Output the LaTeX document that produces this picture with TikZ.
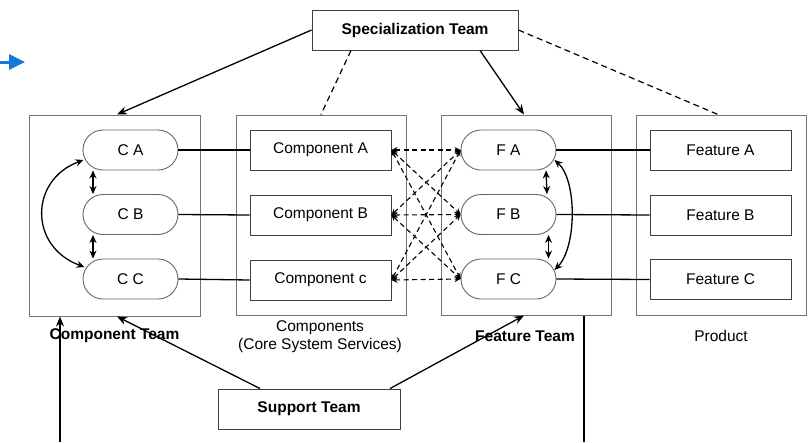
\documentclass[tikz,border=0pt]{standalone}
\usepackage{fontspec}
\setmainfont{Liberation Sans}
\usetikzlibrary{arrows.meta,shapes.misc}

\begin{document}
\begin{tikzpicture}[x=1pt,y=-1pt,
  every node/.style={font=\fontsize{15.5}{18.5}\selectfont},
  panel/.style={draw=black!55, line width=1pt, minimum width=170pt, minimum height=200pt, inner sep=0},
  pill/.style={draw=black!60, rounded rectangle, minimum width=95pt, minimum height=40pt, inner sep=0, line width=0.9pt},
  item/.style={draw=black!75, rectangle, minimum width=141pt, minimum height=40pt, inner sep=0, line width=0.9pt},
  team/.style={draw=black!75, minimum height=40pt, inner sep=0, font=\fontsize{15.5}{18.5}\selectfont\bfseries, line width=0.9pt},
  caption/.style={align=center, inner sep=0},
  link/.style={line width=1.3pt},
  push/.style={link, -{Stealth[length=10pt,width=8pt]}},
  swap/.style={link, {Stealth[length=8pt,width=7pt]}-{Stealth[length=8pt,width=7pt]}},
  loose/.style={line width=1.2pt, dash pattern=on 6pt off 4pt},
  cross/.style={line width=1.1pt, dash pattern=on 5pt off 3.5pt, {Stealth[length=6pt,width=6pt]}-{Stealth[length=6pt,width=6pt]}}
]
\useasboundingbox (0,0) rectangle (808,442);

% team boxes
\node[team, minimum width=206pt] (spec) at (415,30) {Specialization Team};
\node[team, minimum width=182pt] (support) at (309,409) {Support Team};

% four panels
\node[panel, minimum width=171pt, minimum height=201pt] (compteam) at (114.5,215.5) {};
\node[panel] (comps) at (321,215) {};
\node[panel] (featteam) at (526,215) {};
\node[panel] (product) at (721,215) {};

% component team members
\node[pill] (ca) at (130.5,150) {C A};
\node[pill] (cb) at (130.5,214.5) {C B};
\node[pill] (cc) at (130.5,279) {C C};

% components
\node[item] (compa) at (320.5,150) {Component A};
\node[item] (compb) at (320.5,215) {Component B};
\node[item] (compc) at (320.5,280) {Component c};

% feature team members
\node[pill] (fa) at (508.5,150) {F A};
\node[pill] (fb) at (508.5,214.5) {F B};
\node[pill] (fc) at (508.5,279) {F C};

% features
\node[item] (feata) at (720.5,150) {Feature A};
\node[item] (featb) at (720.5,215) {Feature B};
\node[item] (featc) at (720.5,279.5) {Feature C};

% captions
\node[caption, font=\fontsize{15.5}{18.5}\selectfont\bfseries] (lct) at (114.5,336) {Component Team};
\node[caption, font=\fontsize{15.5}{18.5}\selectfont\bfseries] (lft) at (525,336) {Feature Team};
\node[caption] (lcs) at (320,336.5) {Components\\(Core System Services)};
\node[caption] (lpr) at (721,336) {Product};

% pointer
\coordinate (bl1) at (0,62);
\coordinate (bl2) at (25,62);
\draw[color={rgb,255:red,20;green,122;blue,214}, line width=3pt, -{Triangle[length=16pt,width=15pt]}] (bl1) -- (bl2);

% specialization team links
\draw[push] (spec.west) -- ([xshift=2.5pt]compteam.north);
\draw[push] ([xshift=65pt]spec.south) -- ([xshift=-2pt]featteam.north);
\draw[loose] ([xshift=-64pt]spec.south) -- (comps.north);
\draw[loose] (spec.east) -- ([xshift=-3pt]product.north);

% support team links
\draw[push] ([xshift=-49pt]support.north) -- ([xshift=2.5pt]compteam.south);
\draw[push] ([xshift=81pt]support.north) -- ([xshift=-2pt]featteam.south);

% lines leaving the bottom
\coordinate (cbot) at (60,442);
\coordinate (fbot) at (584,442);
\draw[push] (cbot) -- (cbot |- compteam.south);
\draw[link] (fbot |- featteam.south) -- (fbot);

% member to item links
\draw[link] (ca.east) -- (compa.west);
\draw[link] (cb.east) -- (compb.west);
\draw[link] (cc.east) -- (compc.west);
\draw[link] (fa.east) -- (feata.west);
\draw[link] (fb.east) -- (featb.west);
\draw[link] (fc.east) -- (featc.west);

% components to feature team, every pair
\foreach \c in {compa,compb,compc}
  \foreach \f in {fa,fb,fc}
    \draw[cross] (\c.east) -- (\f.west);

% component team coordination
\draw[swap] ([xshift=-37.5pt]ca.south) -- ([xshift=-37.5pt]cb.north);
\draw[swap] ([xshift=-37.5pt]cb.south) -- ([xshift=-37.5pt]cc.north);
\draw[swap] ([shift={(-47,10)}]ca.center) .. controls (29,180) and (29,247) .. ([shift={(-46,-12)}]cc.center);

% feature team coordination
\draw[swap] ([xshift=37.5pt]fa.south) -- ([xshift=38.5pt]fb.north);
\draw[swap] ([xshift=40pt]fb.south) -- ([xshift=40pt]fc.north);
\draw[swap] ([shift={(46,10)}]fa.center) .. controls (577,180) and (577,247) .. ([shift={(46,-9)}]fc.center);
\end{tikzpicture}
\end{document}
